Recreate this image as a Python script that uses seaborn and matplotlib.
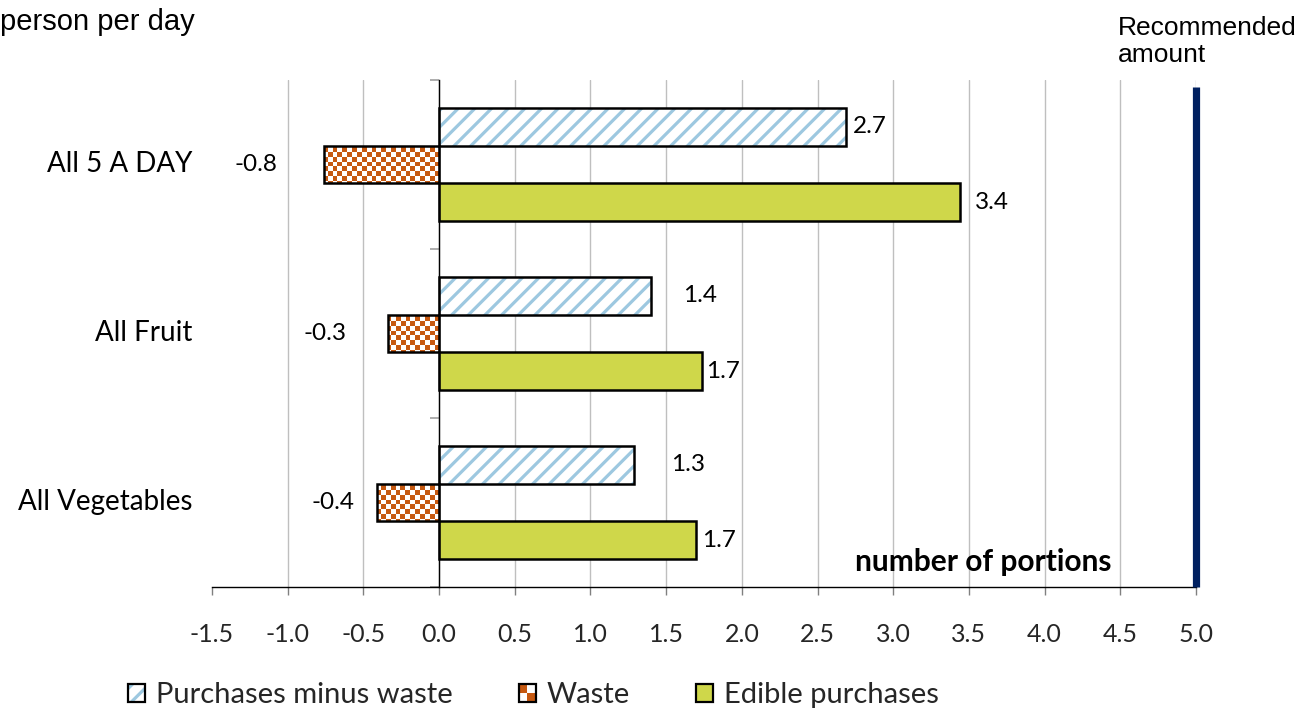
import numpy as np
import pandas as pd
import matplotlib
matplotlib.use("Agg")
import matplotlib.pyplot as plt
import matplotlib.transforms as mtransforms
from matplotlib.patches import Rectangle
from matplotlib.colors import ListedColormap
from matplotlib.legend_handler import HandlerBase
import seaborn as sns

# ---- data -------------------------------------------------------------
categories = ["All 5 A DAY", "All Fruit", "All Vegetables"]
series = ["Purchases minus waste", "Waste", "Edible purchases"]
purchases_minus_waste = [2.69, 1.40, 1.29]
waste = [-0.76, -0.34, -0.41]
edible_purchases = [3.44, 1.74, 1.70]
recommended_amount = 5.0
x_ticks = [-1.5, -1.0, -0.5, 0.0, 0.5, 1.0, 1.5, 2.0, 2.5, 3.0, 3.5, 4.0, 4.5, 5.0]

# ---- styling ----------------------------------------------------------
BLUE = "#9DC8E0"
ORANGE = "#C65911"
GREEN = "#CFD74A"
NAVY = "#002060"
GRID = "#BFBFBF"
BODY_FONT = ["Lato", "DejaVu Sans"]
HEAD_FONT = ["Liberation Sans", "DejaVu Sans"]

sns.set_theme(style="white")
plt.rcParams["font.family"] = BODY_FONT
plt.rcParams["hatch.linewidth"] = 2.3

df = pd.DataFrame({
    "category": np.repeat(categories, len(series)),
    "series": series * len(categories),
    "value": np.ravel(np.column_stack([purchases_minus_waste, waste, edible_purchases])),
})

fig = plt.figure(figsize=(13.01, 7.09), dpi=100)
ax = fig.add_axes([0.16295, 0.17208, 0.75634, 0.71509])

sns.barplot(data=df, y="category", x="value", hue="series",
            order=categories, hue_order=series, orient="y",
            palette=["white", ORANGE, GREEN], width=2 / 3,
            edgecolor="black", linewidth=1.8, saturation=1,
            legend=False, ax=ax, zorder=3)

ax.set_xlabel("")
ax.set_ylabel("")

# ---- fills ------------------------------------------------------------
hatch_bars, waste_bars, edible_bars = ax.containers

# diagonal stripes behind the outlined bars
for bar in hatch_bars:
    bar.set_facecolor("none")
    stripe = Rectangle(bar.get_xy(), bar.get_width(), bar.get_height(),
                       facecolor="white", edgecolor=BLUE, hatch="//",
                       linewidth=0, zorder=2.5)
    ax.add_patch(stripe)

# checkerboard fill clipped to each waste bar
cell_px = 4.8
ax_w_px = 0.75634 * 1301
ax_h_px = 0.71509 * 709
nr, nc = int(ax_h_px / cell_px), int(ax_w_px / cell_px)
checker = np.add.outer(np.arange(nr), np.arange(nc)) % 2
for bar in waste_bars:
    bar.set_facecolor("none")
    im = ax.imshow(checker, cmap=ListedColormap(["white", ORANGE]),
                   extent=[0, 1, 0, 1], transform=ax.transAxes,
                   interpolation="nearest", aspect="auto", zorder=2.5)
    im.set_clip_path(bar)
ax.set_xlim(x_ticks[0], x_ticks[-1])
ax.set_ylim(len(categories) - 0.5, -0.5)

# ---- axes -------------------------------------------------------------
for side in ("top", "right"):
    ax.spines[side].set_visible(False)
ax.spines["left"].set_position(("data", 0))
ax.spines["left"].set_color("black")
ax.spines["left"].set_linewidth(1.0)
ax.spines["left"].set_zorder(4)
ax.spines["bottom"].set_color("black")
ax.spines["bottom"].set_linewidth(1.0)

ax.set_xticks(x_ticks)
ax.set_xticklabels([f"{t:.1f}" for t in x_ticks])
ax.tick_params(axis="x", direction="out", length=6, width=1.0,
               color="#808080", labelsize=18, pad=20, bottom=True)

ax.set_yticks(np.arange(len(categories) + 1) - 0.5)
ax.set_yticklabels([])
ax.tick_params(axis="y", direction="out", length=6.5, width=1.2,
               color="#A0A0A0", left=True)

ax.grid(axis="x", color=GRID, linewidth=1.0, zorder=0)
ax.grid(axis="y", visible=False)
ax.set_axisbelow(True)
ax.xaxis.get_gridlines()[0].set_visible(False)

ylab_tr = mtransforms.blended_transform_factory(ax.transAxes, ax.transData)
for i, name in enumerate(categories):
    ax.text(-0.0203, i, name, transform=ylab_tr, ha="right", va="center",
            fontsize=20, color="black")

# recommended amount marker
ax.plot([recommended_amount, recommended_amount], [0, 0.986],
        transform=mtransforms.blended_transform_factory(ax.transData, ax.transAxes),
        color=NAVY, linewidth=5.2, solid_capstyle="butt", clip_on=False, zorder=5)

# ---- value labels -----------------------------------------------------
label_pad_px = [[7, 32, 37], [47, 41, 23], [15, 4, 6]]
for container, pads in zip(ax.containers, label_pad_px):
    for bar, pad in zip(container, pads):
        v = bar.get_width()
        y = bar.get_y() + bar.get_height() / 2
        sign = 1 if v >= 0 else -1
        ax.annotate(f"{v:.1f}", xy=(v, y), xytext=(sign * pad * 0.72, 0),
                    textcoords="offset points", ha="left" if v >= 0 else "right",
                    va="center", fontsize=17.5, color="black", zorder=6)

ax.text(0.914, 0.049, "number of portions", transform=ax.transAxes,
        ha="right", va="center", fontsize=21.5, fontweight="bold", color="black")

# ---- titles -----------------------------------------------------------
fig.text(0.0, 1 - 22 / 709, "person per day", ha="left", va="center",
         fontsize=21, family=HEAD_FONT, color="black")
fig.text(0.8593, 1 - 16 / 709, "Recommended\namount", ha="left", va="top",
         fontsize=19, family=HEAD_FONT, color="black", linespacing=1.16)


# ---- legend -----------------------------------------------------------
class Swatch:
    def __init__(self, kind, label):
        self.kind = kind
        self.label = label

    def get_label(self):
        return self.label


class SwatchHandler(HandlerBase):
    def create_artists(self, legend, orig_handle, xdescent, ydescent,
                       width, height, fontsize, trans):
        x0, y0 = -xdescent, -ydescent
        arts = []
        if orig_handle.kind == "hatch":
            arts.append(Rectangle((x0, y0), width, height, facecolor="white",
                                  edgecolor=BLUE, hatch="//", linewidth=0))
        elif orig_handle.kind == "checker":
            arts.append(Rectangle((x0, y0), width, height, facecolor=ORANGE,
                                  linewidth=0))
            arts.append(Rectangle((x0 + width / 2, y0 + height / 2), width / 2,
                                  height / 2, facecolor="white", linewidth=0))
            arts.append(Rectangle((x0, y0), width / 2, height / 2,
                                  facecolor="white", linewidth=0))
        else:
            arts.append(Rectangle((x0, y0), width, height, facecolor=GREEN,
                                  linewidth=0))
        arts.append(Rectangle((x0, y0), width, height, facecolor="none",
                              edgecolor="black", linewidth=1.6))
        for a in arts:
            a.set_transform(trans)
        return arts


handles = [Swatch("hatch", series[0]), Swatch("checker", series[1]),
           Swatch("solid", series[2])]
fig.legend(handles, series, handler_map={Swatch: SwatchHandler()},
           loc="center", bbox_to_anchor=(0.41, 1 - 695 / 709), ncol=3,
           frameon=False, fontsize=21, handlelength=0.58, handleheight=0.58,
           handletextpad=0.38, columnspacing=2.26, borderaxespad=0)

fig.savefig("out.png", dpi=100)
